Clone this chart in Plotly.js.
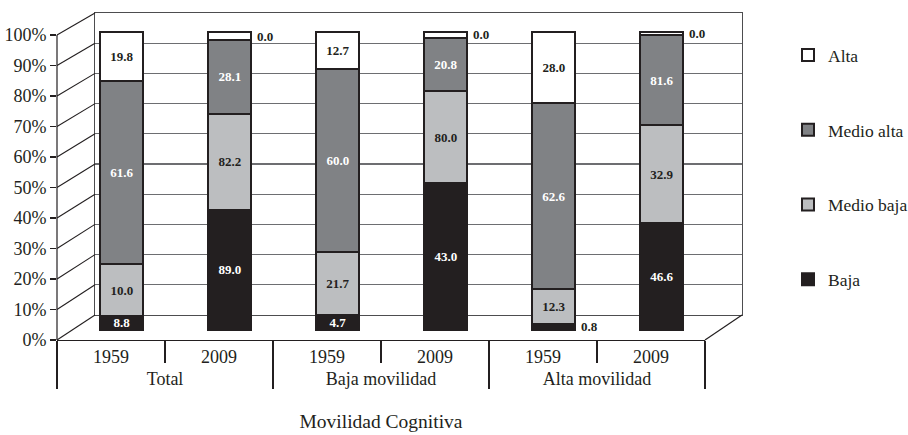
<!DOCTYPE html>
<html><head><meta charset="utf-8">
<script src="https://cdn.plot.ly/plotly-3.0.1.min.js"></script>
<style>html,body{margin:0;padding:0;background:#fff}#chart{width:908px;height:435px}</style>
</head><body><div id="chart"></div>
<script>
// ---- data ----
const groups = ['Total','Total','Baja movilidad','Baja movilidad','Alta movilidad','Alta movilidad'];
const years = ['1959','2009','1959','2009','1959','2009'];
const seriesNames = ['Baja','Medio baja','Medio alta','Alta'];
// segment heights as drawn (share of the 100% column)
const bajaPct = [4.4, 40.3, 4.9, 49.1, 1.8, 35.7];
const medioBajaPct = [17.7, 32.2, 21.3, 31.2, 11.7, 33.0];
const medioAltaPct = [61.5, 24.8, 61.3, 17.8, 62.5, 30.3];
const altaPct = [16.4, 2.7, 12.5, 1.9, 24.0, 1.0];
// value labels printed on the segments
const bajaLabels = ['8.8','89.0','4.7','43.0','0.8','46.6'];
const medioBajaLabels = ['10.0','82.2','21.7','80.0','12.3','32.9'];
const medioAltaLabels = ['61.6','28.1','60.0','20.8','62.6','81.6'];
const altaLabels = ['19.8','0.0','12.7','0.0','28.0','0.0'];
const yTicks = [0,10,20,30,40,50,60,70,80,90,100];

// ---- geometry (px) ----
const W = 908, H = 435;
const plotL = 57, plotR = 742, plotT = 13, plotB = 340;
const plotW = plotR - plotL, plotH = plotB - plotT;
const backL = 95, backB = 315, floorR = 705;
const xBackDom = [(backL - plotL) / plotW, 1];
const yBackDom = [(plotB - backB) / plotH, 1];
const frontPx = 3.05;            // px per % on the front axis
const frontMax = plotH / frontPx;
const barZero = 329.5, barPx = 2.975;
const y2Range = [-(plotB - barZero) / barPx, (barZero - plotT) / barPx];

const FONT = '"Liberation Serif", "Times New Roman", serif';
const INK = '#231f20';
const x = [groups, years];

const pcts = [bajaPct, medioBajaPct, medioAltaPct, altaPct];
const labels = [bajaLabels, medioBajaLabels, medioAltaLabels, altaLabels];
const fills = [INK, '#bcbec0', '#808285', '#ffffff'];
const textCols = ['#ffffff', INK, '#ffffff', INK];
const SMALL = 3;

const traces = [
  {type:'scatter', x:[], y:[], xaxis:'x', yaxis:'y', showlegend:false, hoverinfo:'skip'},
  {type:'scatter', x:[], y:[], xaxis:'x2', yaxis:'y3', showlegend:false, hoverinfo:'skip'}
];
const annotations = [];
const base = [0,0,0,0,0,0];
pcts.forEach((vals, s) => {
  traces.push({
    type:'bar', name: seriesNames[s], x: x, y: vals, xaxis:'x2', yaxis:'y2',
    legendgroup: seriesNames[s], legendrank: 4 - s,
    width: 0.4, offset: -0.1,
    marker:{color: fills[s], line:{color: INK, width: 2}},
    text: labels[s].map((t, i) => vals[i] < SMALL ? '' : t),
    textposition:'inside', insidetextanchor:'middle', textangle:0, constraintext:'none',
    textfont:{family: FONT, size: 13, color: textCols[s], weight: 700},
    hoverinfo:'none'
  });
  vals.forEach((v, i) => {
    if (v < SMALL) {
      annotations.push({
        xref:'x2', yref:'y2', x: i, y: base[i] + v / 2, xanchor:'left', yanchor:'middle',
        xshift: 36, showarrow:false, text: labels[s][i],
        font:{family: FONT, size: 13, color: INK, weight: 700}
      });
    }
    base[i] += v;
  });
});

// frame decoration: left side diagonals and right floor diagonal
const shapes = yTicks.map(v => ({
  type:'line', xref:'paper', yref:'paper',
  x0: 0, y0: v / frontMax, x1: xBackDom[0], y1: yBackDom[0] + v / 100 * (1 - yBackDom[0]),
  line:{color: INK, width: 1.1}
}));
shapes.push({type:'line', xref:'paper', yref:'y3', x0:0, x1:0, y0:0, y1:100, line:{color: INK, width: 1.2}});
shapes.push({type:'line', xref:'paper', yref:'paper', x0:(floorR - plotL) / plotW, y0:0, x1:1, y1:yBackDom[0], line:{color: INK, width: 1.2}});

const layout = {
  width: W, height: H,
  margin:{l: plotL, r: W - plotR, t: plotT, b: H - plotB, autoexpand:false},
  paper_bgcolor:'#ffffff', plot_bgcolor:'rgba(0,0,0,0)',
  font:{family: FONT, size: 17, color: INK},
  barmode:'stack',
  showlegend:true,
  legend:{x: (788 - plotL) / plotW, y: 0.926, xanchor:'left', yanchor:'top',
    traceorder:'grouped', tracegroupgap: 49, font:{family: FONT, size: 17.5, color: INK},
    bgcolor:'rgba(0,0,0,0)', itemclick:false, itemdoubleclick:false},
  xaxis:{domain: xBackDom, anchor:'y', range:[0,1], showgrid:false, zeroline:false,
    showticklabels:false, ticks:'', showline:true, mirror:true, linecolor:'#4d4d4f', linewidth:1.3, fixedrange:true},
  yaxis:{domain: yBackDom, anchor:'x', range:[0,100], tick0:0, dtick:10, showgrid:true,
    gridcolor:'#6d6e71', gridwidth:1.3, zeroline:false, showticklabels:false, ticks:'',
    showline:true, mirror:true, linecolor:'#4d4d4f', linewidth:1.3, fixedrange:true},
  xaxis2:{type:'multicategory', domain:[0, (floorR - plotL) / plotW], anchor:'y2',
    range:[-0.5, 5.5], showgrid:false, zeroline:false,
    showline:true, linecolor: INK, linewidth:1.2,
    ticks:'outside', tickson:'boundaries', ticklen:22, tickcolor: INK, tickwidth:1.2,
    showdividers:true, dividercolor: INK, dividerwidth:1.2,
    tickfont:{family: FONT, size: 18, color: INK},
    title:{text:'Movilidad Cognitiva', standoff: 26, font:{family: FONT, size: 19.5, color: INK}},
    fixedrange:true},
  yaxis2:{domain:[0,1], anchor:'x2', range: y2Range, visible:false, fixedrange:true},
  yaxis3:{overlaying:'y2', anchor:'x2', side:'left', range:[0, frontMax],
    tickvals: yTicks, ticktext: yTicks.map(v => v + '%'),
    showgrid:false, zeroline:false, showline:false,
    ticks:'outside', ticklen:6, tickcolor: INK, tickwidth:1.2,
    tickfont:{family: FONT, size: 18, color: INK}, fixedrange:true},
  shapes: shapes,
  annotations: annotations
};

Plotly.newPlot('chart', traces, layout, {displayModeBar:false, staticPlot:true});
</script>
</body></html>
